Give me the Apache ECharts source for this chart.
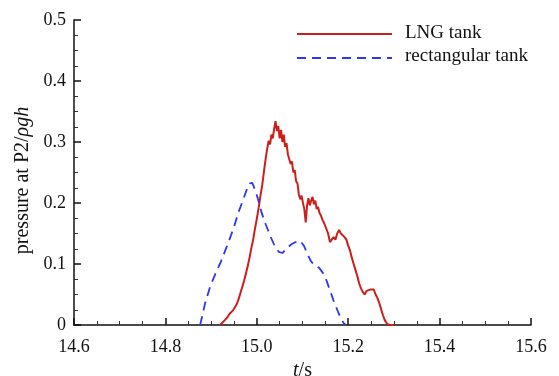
<!DOCTYPE html>
<html>
<head>
<meta charset="utf-8">
<script src="https://cdn.jsdelivr.net/npm/echarts@6/dist/echarts.min.js"></script>
<style>
html,body{margin:0;padding:0;background:#fff;}
#chart{width:559px;height:376px;}
</style>
</head>
<body>
<div id="chart"></div>
<script>
// LNG tank (red solid)
var tLNG = [14.919,14.925,14.930,14.935,14.940,14.944,14.948,14.952,14.956,14.960,14.964,14.968,14.972,14.976,14.980,14.984,14.988,14.992,14.996,15.000,15.004,15.008,15.012,15.016,15.020,15.023,15.026,15.029,15.032,15.035,15.038,15.041,15.044,15.047,15.050,15.053,15.056,15.059,15.062,15.065,15.068,15.071,15.074,15.077,15.080,15.083,15.086,15.089,15.092,15.095,15.098,15.101,15.104,15.107,15.110,15.113,15.116,15.119,15.122,15.125,15.128,15.131,15.134,15.137,15.140,15.144,15.148,15.152,15.156,15.160,15.164,15.168,15.172,15.176,15.180,15.184,15.188,15.192,15.196,15.200,15.204,15.208,15.212,15.216,15.220,15.224,15.228,15.232,15.236,15.240,15.244,15.248,15.252,15.256,15.260,15.264,15.268,15.272,15.276,15.280,15.285,15.290,15.300];
var pLNG = [0,0.004,0.008,0.012,0.018,0.016,0.024,0.026,0.034,0.042,0.052,0.062,0.072,0.084,0.096,0.110,0.126,0.140,0.158,0.174,0.192,0.212,0.230,0.254,0.276,0.290,0.302,0.296,0.312,0.306,0.322,0.334,0.318,0.326,0.306,0.320,0.300,0.312,0.292,0.298,0.280,0.282,0.264,0.268,0.250,0.254,0.236,0.232,0.214,0.206,0.212,0.200,0.190,0.168,0.196,0.208,0.196,0.204,0.210,0.198,0.204,0.190,0.194,0.184,0.180,0.172,0.166,0.168,0.150,0.136,0.138,0.144,0.140,0.150,0.156,0.150,0.152,0.144,0.140,0.130,0.122,0.110,0.100,0.090,0.080,0.068,0.060,0.054,0.050,0.056,0.056,0.058,0.057,0.058,0.050,0.044,0.036,0.026,0.016,0.008,0.002,0,0];
// rectangular tank (blue dashed)
var tRect = [14.876,14.887,14.898,14.910,14.921,14.934,14.949,14.960,14.970,14.978,14.985,14.990,14.996,15.002,15.011,15.020,15.030,15.040,15.048,15.056,15.065,15.075,15.085,15.095,15.103,15.110,15.118,15.126,15.136,15.145,15.153,15.160,15.168,15.176,15.183,15.190,15.195];
var pRect = [0,0.036,0.063,0.085,0.103,0.128,0.158,0.185,0.205,0.222,0.232,0.233,0.222,0.208,0.183,0.164,0.145,0.128,0.120,0.118,0.125,0.132,0.136,0.138,0.130,0.118,0.105,0.098,0.094,0.085,0.072,0.057,0.040,0.025,0.012,0.003,0];
var seriesNames = ['LNG tank', 'rectangular tank'];
var xMin = 14.6, xMax = 15.6, xStep = 0.2;
var yMin = 0, yMax = 0.5, yStep = 0.1;

function pairs(t, p){ return t.map(function(v,i){ return [v, p[i]]; }); }

var font = '"Liberation Serif", "Times New Roman", serif';
var red = '#cc1e1a', blue = '#2f36f0', dash = [9, 6];
var chart = echarts.init(document.getElementById('chart'), null, {renderer:'canvas'});
chart.setOption({
  animation: false,
  backgroundColor: '#ffffff',
  grid: {left: 74, right: 28, top: 20, bottom: 51, containLabel: false, outerBoundsMode: 'none'},
  graphic: [
    {type: 'line', shape: {x1: 297, y1: 34, x2: 392, y2: 34}, style: {stroke: red, lineWidth: 2}},
    {type: 'text', left: 405, top: 24, style: {text: seriesNames[0], font: '19px ' + font, fill: '#111'}},
    {type: 'line', shape: {x1: 297, y1: 58, x2: 392, y2: 58}, style: {stroke: blue, lineWidth: 1.8, lineDash: dash}},
    {type: 'text', left: 405, top: 47, style: {text: seriesNames[1], font: '19px ' + font, fill: '#111'}}
  ],
  xAxis: {
    type: 'value', min: xMin, max: xMax, interval: xStep,
    name: '{i|t}{n|/s}', nameLocation: 'middle', nameGap: 29,
    nameTextStyle: {rich: {i: {fontFamily: font, fontSize: 20, fontStyle: 'italic', color: '#111'}, n: {fontFamily: font, fontSize: 20, color: '#111'}}},
    axisLine: {lineStyle: {color: '#111', width: 1.5}},
    axisTick: {inside: true, length: 7, lineStyle: {color: '#111', width: 1.5}},
    minorTick: {show: true, splitNumber: 4, length: 4, lineStyle: {color: '#333', width: 1}},
    splitLine: {show: false},
    axisLabel: {fontFamily: font, fontSize: 18, color: '#111', margin: 13, formatter: function(v){ return v.toFixed(1); }}
  },
  yAxis: {
    type: 'value', min: yMin, max: yMax, interval: yStep,
    name: '{n|pressure at P2/}{i|ρgh}', nameLocation: 'middle', nameGap: 35, nameRotate: 90,
    nameTextStyle: {padding: [0, 16, 0, 0], rich: {i: {fontFamily: font, fontSize: 20, fontStyle: 'italic', color: '#111'}, n: {fontFamily: font, fontSize: 20, color: '#111'}}},
    axisLine: {show: true, lineStyle: {color: '#111', width: 1.5}},
    axisTick: {show: true, inside: true, length: 7, lineStyle: {color: '#111', width: 1.5}},
    minorTick: {show: true, splitNumber: 4, length: 4, lineStyle: {color: '#333', width: 1}},
    splitLine: {show: false},
    axisLabel: {fontFamily: font, fontSize: 18, color: '#111', margin: 8, formatter: function(v){ return v === 0 ? '0' : v.toFixed(1); }}
  },
  series: [
    {name: seriesNames[0], type: 'line', showSymbol: false, symbol: 'none', data: pairs(tLNG, pLNG),
     lineStyle: {color: red, width: 2}, itemStyle: {color: red}},
    {name: seriesNames[1], type: 'line', showSymbol: false, symbol: 'none', data: pairs(tRect, pRect),
     lineStyle: {color: blue, width: 1.8, type: dash}, itemStyle: {color: blue}}
  ]
});
</script>
</body>
</html>
